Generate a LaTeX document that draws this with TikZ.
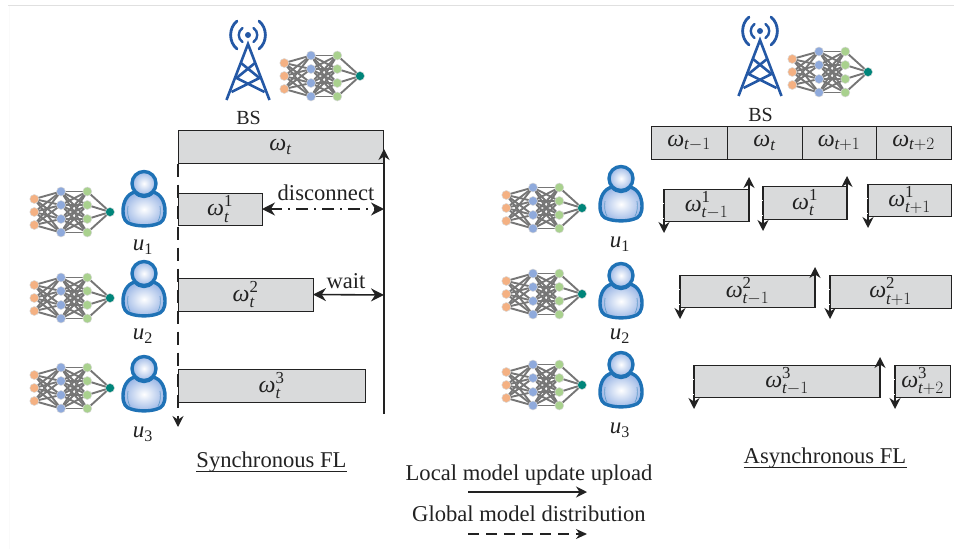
\documentclass[tikz,border=0pt]{standalone}
\usepackage{amsmath}
\usepackage{fontspec}
\setmainfont{Liberation Serif}
\usetikzlibrary{arrows.meta,backgrounds}
\definecolor{boxgray}{HTML}{D9DADB}
\definecolor{towerblue}{HTML}{2458A5}
\definecolor{userblue}{HTML}{1F72B6}
\definecolor{bodyblue}{HTML}{9DB8E6}
\definecolor{netorange}{HTML}{F4B183}
\definecolor{netblue}{HTML}{8FAADC}
\definecolor{netgreen}{HTML}{A9D18E}
\definecolor{netteal}{HTML}{00857A}
\definecolor{netedge}{HTML}{767676}
\definecolor{ink}{HTML}{222222}
\tikzset{
  tbox/.style={draw=ink,fill=boxgray,line width=1pt,anchor=north west,inner sep=0pt,outer sep=0pt,text=ink},
  lab/.style={text=ink,inner sep=0pt,font=\fontsize{22.6}{24}\selectfont},
  bslab/.style={text=ink,inner sep=0pt,font=\fontsize{20}{22}\selectfont},
  ulab/.style={text=ink,inner sep=0pt,font=\fontsize{23}{25}\selectfont},
  nn/.style={circle,inner sep=0pt,minimum size=9pt,draw=black!15,line width=0.5pt},
  solidarrow/.style={draw=ink,line width=1.6pt,-{Stealth[length=11pt,width=11pt]}},
  dasharrow/.style={draw=ink,line width=1.6pt,dash pattern=on 13pt off 8pt,-{Stealth[length=11pt,width=11pt]}},
  legdash/.style={draw=ink,line width=1.6pt,dash pattern=on 11pt off 7pt,-{Stealth[length=11pt,width=10pt]}},
  downarrow/.style={draw=ink,line width=1.6pt,dash pattern=on 14pt off 1pt,-{Stealth[length=11pt,width=11pt]}},
  bothsolid/.style={draw=ink,line width=1.6pt,{Stealth[length=13pt,width=13pt]}-{Stealth[length=13pt,width=13pt]}},
  dashdot/.style={draw=ink,line width=1.5pt,dash pattern=on 12pt off 6pt on 2pt off 6pt,{Stealth[length=13pt,width=13pt]}-{Stealth[length=13pt,width=13pt]}},
  towerline/.style={draw=towerblue,line width=2.4pt},
  ruleline/.style={draw=ink,line width=0.9pt},
}
\newcommand{\wlab}[2]{{\fontsize{24}{26}\selectfont$\text{\itshape ω}_{\text{\itshape t}#1}^{\text{#2}}$}}
\newcommand{\wonly}[1]{{\fontsize{24}{26}\selectfont$\text{\itshape ω}_{\text{\itshape t}#1}$}}
\newcommand{\ulbl}[1]{$\text{\itshape u}_{\text{#1}}$}
% neural net, origin at the output neuron
\newcommand{\nnet}[3]{%
  \begin{scope}[shift={(#2,#3)}]
    \foreach \i/\yy in {1/-13,2/0,3/13}
      \node[nn,fill=netorange] (#1a\i) at (-75.7,\yy) {};
    \foreach \i/\yy in {1/-20.5,2/-7,3/7,4/20.5}{
      \node[nn,fill=netblue] (#1b\i) at (-49,\yy) {};
      \node[nn,fill=netgreen] (#1c\i) at (-22.7,\yy) {};
    }
    \node[nn,fill=netteal] (#1o) at (0,0) {};
    \begin{scope}[on background layer]
      \foreach \i in {1,2,3}\foreach \j in {1,2,3,4}
        \draw[netedge,line width=1.9pt] (#1a\i.center) -- (#1b\j.center);
      \foreach \i in {1,2,3,4}\foreach \j in {1,2,3,4}
        \draw[netedge,line width=1.9pt] (#1b\i.center) -- (#1c\j.center);
      \foreach \j in {1,2,3,4}
        \draw[netedge,line width=1.9pt] (#1c\j.center) -- (#1o.center);
    \end{scope}
  \end{scope}}
% person, origin at top of head
\newcommand{\person}[2]{%
  \begin{scope}[shift={(#1,#2)}]
    \shade[inner color=white,outer color=bodyblue,draw=userblue,line width=3.4pt,line join=round]
      (-9,23) .. controls (-17,25) and (-21,33) .. (-21,42)
      .. controls (-21,50) and (-18,54) .. (-13,55)
      .. controls (-6,57.5) and (6,57.5) .. (13,55)
      .. controls (18,54) and (21,50) .. (21,42)
      .. controls (21,33) and (17,25) .. (9,23)
      .. controls (4,29) and (-4,29) .. (-9,23) -- cycle;
    \draw[userblue!70,line width=0.7pt] (-16,37) .. controls (-17,43) and (-16,49) .. (-14,52);
    \draw[userblue!70,line width=0.7pt] (16,37) .. controls (17,43) and (16,49) .. (14,52);
    \shade[inner color=white,outer color=bodyblue,draw=userblue,line width=3.4pt]
      (0,14.5) circle (12);
  \end{scope}}
% tower, origin at the beacon dot
\newcommand{\tower}[2]{%
  \begin{scope}[shift={(#1,#2)}]
    \fill[towerblue] (0,0) circle (3);
    \draw[towerline,line cap=round] (-5.5,-7) .. controls (-10.5,-3.5) and (-10.5,3.5) .. (-5.5,7);
    \draw[towerline,line cap=round] (5.5,-7) .. controls (10.5,-3.5) and (10.5,3.5) .. (5.5,7);
    \draw[towerline,line width=2.8pt,line cap=round] (-11,-14) .. controls (-19.5,-7) and (-19.5,7) .. (-11,14);
    \draw[towerline,line width=2.8pt,line cap=round] (11,-14) .. controls (19.5,-7) and (19.5,7) .. (11,14);
    \draw[towerline,line width=2.6pt,line join=miter] (-21.5,65) -- (0,9) -- (21.5,65);
    \draw[towerline,line width=2.6pt] (-7,28) -- (11.5,43) -- (-16.5,57);
    \draw[towerline,line width=2.6pt] (7,28) -- (-11.5,43) -- (16.5,57);
  \end{scope}}
\begin{document}
\begin{tikzpicture}[x=1pt,y=-1pt]
\useasboundingbox (0,0) rectangle (954,549);
\draw[black!12,line width=1pt] (8,5) -- (954,5);
\draw[black!2,line width=0.7pt] (9,6) -- (9,549);

%% left: synchronous
\tower{248}{35}
\nnet{ln}{360}{76}
\node[bslab] (bsl) at (248.5,118) {BS};
\node[tbox,minimum width=205pt,minimum height=33pt] (wt) at (178,130.5) {\wonly{}};
\node[tbox,minimum width=84pt,minimum height=32pt] (w1) at (178,193) {\wlab{}{1}};
\node[tbox,minimum width=135pt,minimum height=33pt] (w2) at (178,278) {\wlab{}{2}};
\node[tbox,minimum width=187pt,minimum height=33pt] (w3) at (178,369) {\wlab{}{3}};

\nnet{lu1}{110}{212}
\nnet{lu2}{110}{298}
\nnet{lu3}{110}{388}
\person{144}{169}
\person{144}{259}
\person{144}{354}
\node[ulab] (lu1l) at (143,247) {\ulbl{1}};
\node[ulab] (lu2l) at (143,336) {\ulbl{2}};
\node[ulab] (lu3l) at (143,434) {\ulbl{3}};

\coordinate (ldown) at (178,427);
\coordinate (lbot) at (384,414);
\coordinate (ltop) at (384,149);
\coordinate (lconn) at (384,209);
\coordinate (lwait) at (384,295);
\draw[dasharrow] (wt.south west) -- (ldown);
\draw[solidarrow] (lbot) -- (ltop);
\draw[dashdot] (w1.east) -- (lconn);
\draw[bothsolid] (w2.east) -- (lwait);
\node[lab,anchor=base] (disc) at (326,200) {disconnect};
\node[lab,anchor=base] (waitl) at (346,288) {wait};
\node[lab,anchor=base] (synct) at (271.5,467) {Synchronous FL};
\draw[ruleline] ([yshift=-4.5pt]synct.base west) -- ([yshift=-4.5pt]synct.base east);

%% right: asynchronous
\tower{760}{31}
\nnet{rn}{868}{72}
\node[bslab] (bsr) at (760.5,115) {BS};
\node[tbox,minimum width=76pt,minimum height=33pt] (g1) at (651,126.5) {\wonly{-1}};
\node[tbox,minimum width=75pt,minimum height=33pt] (g2) at (727,126.5) {\wonly{}};
\node[tbox,minimum width=74pt,minimum height=33pt] (g3) at (802,126.5) {\wonly{+1}};
\node[tbox,minimum width=75pt,minimum height=33pt] (g4) at (876,126.5) {\wonly{+2}};

\nnet{ru1}{582}{208}
\nnet{ru2}{582}{294}
\nnet{ru3}{582}{385}
\person{621}{164}
\person{621}{261}
\person{621}{350}
\node[ulab] (ru1l) at (620,244) {\ulbl{1}};
\node[ulab] (ru2l) at (620,336) {\ulbl{2}};
\node[ulab] (ru3l) at (620,430) {\ulbl{3}};

\node[tbox,minimum width=85pt,minimum height=32pt] (a1) at (664,189) {\wlab{-1}{1}};
\node[tbox,minimum width=84pt,minimum height=33pt] (a2) at (763,186) {\wlab{}{1}};
\node[tbox,minimum width=83pt,minimum height=32pt] (a3) at (868,184) {\wlab{+1}{1}};
\node[tbox,minimum width=135pt,minimum height=32pt] (b1) at (680,275) {\wlab{-1}{2}};
\node[tbox,minimum width=121pt,minimum height=33pt] (b2) at (830,275) {\wlab{+1}{2}};
\node[tbox,minimum width=186pt,minimum height=32pt] (c1) at (694,365) {\wlab{-1}{3}};
\node[tbox,minimum width=55pt,minimum height=32pt] (c2) at (895,365) {\wlab{+2}{3}};

\coordinate (a1u) at (749,177);\coordinate (a1d) at (664,233);
\coordinate (a2u) at (847,176);\coordinate (a2d) at (763,231);
\coordinate (a3d) at (868,228);
\coordinate (b1u) at (815,267);\coordinate (b1d) at (680,319);
\coordinate (b2d) at (830,319);
\coordinate (c1u) at (880,357);\coordinate (c1d) at (694,409);
\coordinate (c2d) at (895,409);
\foreach \n in {a1,a2,b1,c1}
  \draw[solidarrow] (\n.south east) -- (\n u);
\foreach \n in {a1,a2,a3,b1,b2,c1,c2}
  \draw[downarrow] (\n.north west) -- (\n d);
\node[lab,anchor=base] (asynct) at (825,463) {Asynchronous FL};
\draw[ruleline] ([yshift=-4.5pt]asynct.base west) -- ([yshift=-4.5pt]asynct.base east);

%% legend
\node[lab,anchor=base] (leg1) at (529,480) {Local model update upload};
\node[lab,anchor=base] (leg2) at (529,521.5) {Global model distribution};
\coordinate (s1) at (468,492);\coordinate (e1) at (587,492);
\coordinate (s2) at (468,534);\coordinate (e2) at (587,534);
\draw[solidarrow] (s1) -- (e1);
\draw[legdash] (s2) -- (e2);
\end{tikzpicture}
\end{document}
